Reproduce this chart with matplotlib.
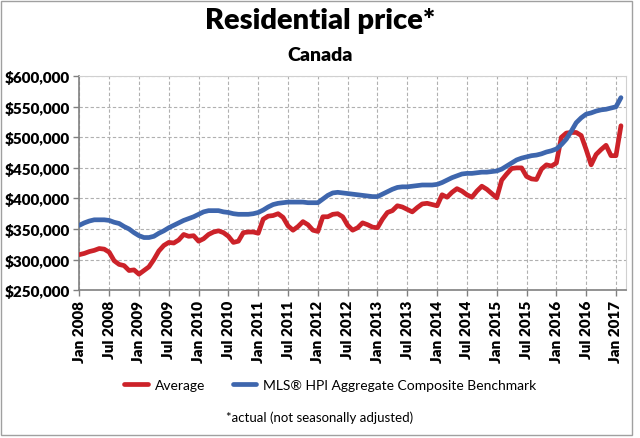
# Residential price* - Canada, Average vs MLS HPI composite benchmark

import matplotlib.pyplot as plt
import matplotlib.ticker as mticker
import numpy as np

plt.rcParams['font.family'] = ['Lato', 'DejaVu Sans']

# monthly values, Jan 2008 .. Feb 2017 (thousands of $)
average = [308, 310, 313, 315, 318, 317, 312, 298, 292, 290,
           282, 283, 276, 282, 288, 300, 314, 323, 328, 327,
           332, 341, 338, 339, 330, 334, 341, 345, 347, 344,
           338, 328, 330, 344, 345, 345, 343, 366, 371, 372,
           375, 369, 355, 348, 354, 362, 357, 348, 346, 370,
           370, 374, 375, 370, 356, 348, 352, 360, 357, 353,
           352, 366, 377, 380, 388, 386, 382, 378, 385, 391,
           392, 390, 388, 406, 402, 410, 416, 412, 406, 402,
           412, 420, 415, 408, 401, 430, 440, 449, 450, 450,
           436, 432, 431, 448, 455, 453, 458, 500, 507, 508,
           508, 503, 480, 455, 472, 480, 487, 470, 470, 519]
hpi = [356, 360, 363, 365, 365, 365, 364, 361, 359, 354,
       350, 344, 339, 336, 336, 338, 343, 347, 352, 356,
       360, 364, 367, 370, 374, 378, 380, 380, 380, 378,
       377, 375, 374, 374, 374, 375, 377, 381, 386, 390,
       392, 393, 394, 394, 394, 394, 393, 393, 393, 399,
       405, 409, 410, 409, 408, 407, 406, 405, 404, 403,
       403, 407, 411, 415, 418, 419, 419, 420, 421, 422,
       422, 422, 423, 426, 430, 434, 437, 440, 441, 441,
       442, 443, 443, 444, 445, 448, 453, 458, 463, 466,
       468, 470, 471, 473, 476, 478, 481, 488, 497, 510,
       524, 532, 538, 540, 543, 545, 546, 548, 550, 565]
tick_labels = []
for yr in range(2008, 2018):
    tick_labels += ['Jan %d' % yr, 'Jul %d' % yr]
tick_labels = tick_labels[:-1]

months = np.arange(len(average))
red = '#CC2229'
blue = '#3E66AD'

fig = plt.figure(figsize=(6.4, 4.39), dpi=100)
ax = fig.add_axes([0.124, 0.337, 0.854, 0.487])

ax.plot(months, np.array(average) * 1000, color=red, lw=3.4,
        solid_capstyle='round', label='Average', zorder=3)
ax.plot(months, np.array(hpi) * 1000, color=blue, lw=3.4,
        solid_capstyle='round', label='MLS® HPI Aggregate Composite Benchmark', zorder=3)

ax.set_xlim(0, 110)
ax.set_ylim(250000, 600000)
ax.set_xticks(np.arange(0, 110, 6))
ax.set_xticklabels(tick_labels, rotation=90, fontsize=11, fontweight='heavy')
ax.set_yticks(np.arange(250000, 600001, 50000))
ax.yaxis.set_major_formatter(mticker.FuncFormatter(lambda v, p: '${:,.0f}'.format(v)))
for t in ax.get_yticklabels():
    t.set_fontsize(11)
    t.set_fontweight('heavy')

ax.grid(True, color='#B0B0B0', ls=(0, (3, 2)), lw=0.8)
ax.tick_params(axis='both', length=4, width=1, color='#808080', pad=3)
for s in ['top', 'right']:
    ax.spines[s].set_color('#D0D0D0')
for s in ['left', 'bottom']:
    ax.spines[s].set_color('#808080')
    ax.spines[s].set_linewidth(1.2)

fig.text(0.5, 0.953, 'Residential price*', ha='center', va='center',
         fontsize=21, fontweight='heavy')
fig.text(0.5, 0.873, 'Canada', ha='center', va='center',
         fontsize=14, fontweight='heavy')

fig.legend(loc='center', bbox_to_anchor=(0.516, 0.12), ncol=2, frameon=False,
           fontsize=10, handlelength=1.7, columnspacing=2.0, handletextpad=0.5)
fig.text(0.5, 0.048, '*actual (not seasonally adjusted)', ha='center', va='center',
         fontsize=9.5)

fig.patches.append(plt.Rectangle((0.002, 0.006), 0.985, 0.99, transform=fig.transFigure,
                                 fill=False, ec='#A0A0A0', lw=1))

fig.savefig('out.png', dpi=100)
